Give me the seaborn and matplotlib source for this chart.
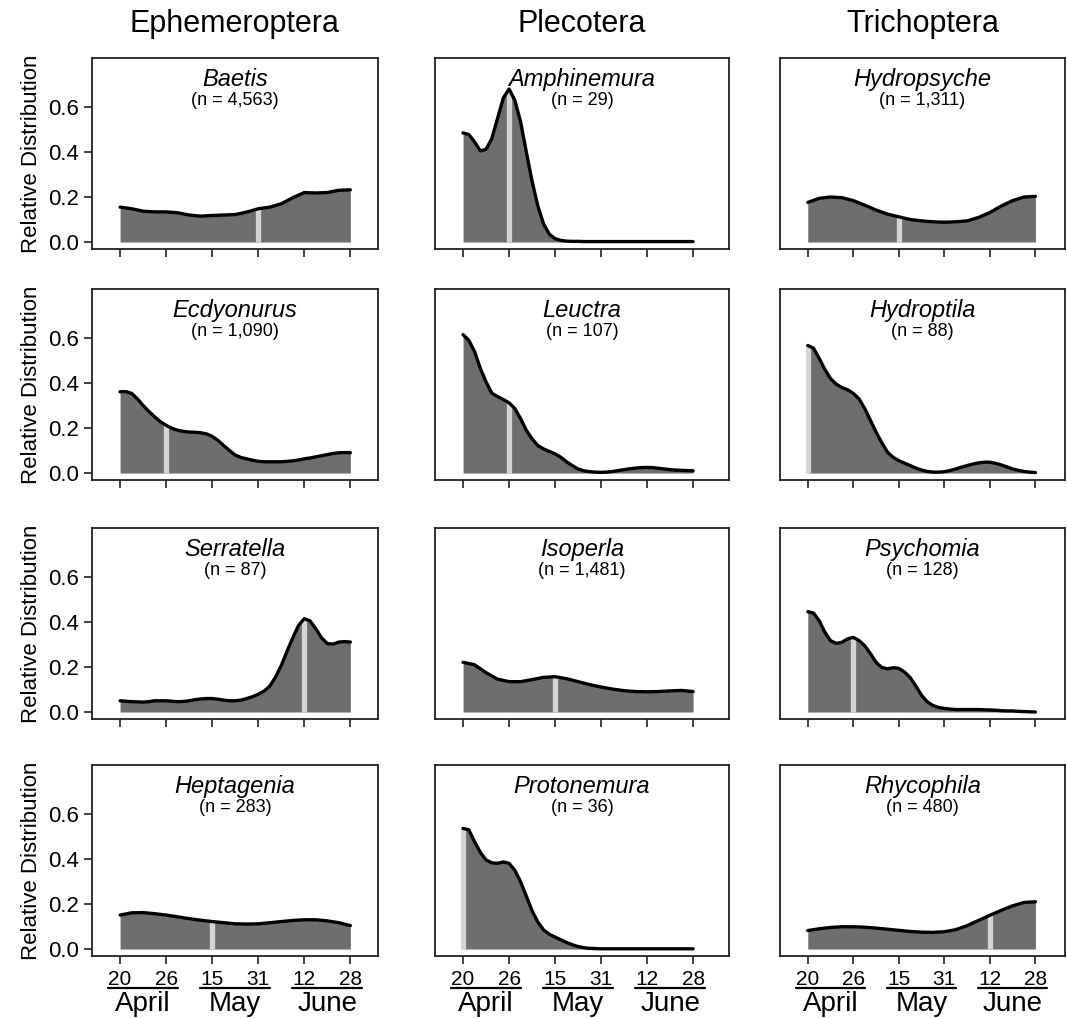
import matplotlib
matplotlib.use("Agg")
import matplotlib.pyplot as plt
import matplotlib.transforms as mtransforms
from matplotlib import font_manager
import seaborn as sns
import pandas as pd

# ---------------- data ----------------
orders = ["Ephemeroptera", "Plecotera", "Trichoptera"]
tick_labels = ["20", "26", "15", "31", "12", "28"]
months = ["April", "May", "June"]
x_coarse = [0.0, 0.25, 0.5, 0.75, 1.0, 1.25, 1.5, 1.75, 2.0, 2.25, 2.5,
            2.75, 3.0, 3.25, 3.5, 3.75, 4.0, 4.25, 4.5, 4.75, 5.0]
x_fine = [0.0, 0.125, 0.25, 0.375, 0.5, 0.625, 0.75, 0.875, 1.0, 1.125, 1.25,
          1.375, 1.5, 1.625, 1.75, 1.875, 2.0, 2.125, 2.25, 2.375, 2.5,
          2.625, 2.75, 2.875, 3.0, 3.125, 3.25, 3.375, 3.5, 3.625, 3.75,
          3.875, 4.0, 4.125, 4.25, 4.375, 4.5, 4.625, 4.75, 4.875, 5.0]

genera = [["Baetis", "Ecdyonurus", "Serratella", "Heptagenia"],
          ["Amphinemura", "Leuctra", "Isoperla", "Protonemura"],
          ["Hydropsyche", "Hydroptila", "Psychomia", "Rhycophila"]]
counts = [["4,563", "1,090", "87", "283"],
          ["29", "107", "1,481", "36"],
          ["1,311", "88", "128", "480"]]

# coarse-sampled (smooth) curves
baetis = [0.155, 0.148, 0.137, 0.134, 0.134, 0.130, 0.120, 0.115, 0.118, 0.120, 0.122,
          0.133, 0.148, 0.155, 0.170, 0.197, 0.220, 0.218, 0.220, 0.230, 0.232]
heptagenia = [0.151, 0.161, 0.162, 0.157, 0.151, 0.143, 0.135, 0.128, 0.122, 0.117, 0.112,
              0.111, 0.112, 0.117, 0.122, 0.127, 0.130, 0.130, 0.125, 0.117, 0.104]
isoperla = [0.221, 0.210, 0.175, 0.146, 0.135, 0.135, 0.144, 0.154, 0.157, 0.148, 0.135,
            0.122, 0.111, 0.102, 0.095, 0.091, 0.090, 0.091, 0.094, 0.096, 0.091]
hydropsyche = [0.176, 0.194, 0.200, 0.197, 0.184, 0.164, 0.142, 0.124, 0.112, 0.100, 0.094,
               0.090, 0.088, 0.090, 0.094, 0.109, 0.131, 0.160, 0.184, 0.200, 0.203]
rhycophila = [0.082, 0.090, 0.096, 0.099, 0.099, 0.097, 0.093, 0.088, 0.083, 0.078, 0.075,
              0.074, 0.077, 0.086, 0.104, 0.127, 0.150, 0.172, 0.192, 0.207, 0.210]

# finely-sampled (peaky) curves
ecdyonurus = [0.361, 0.362, 0.354, 0.330, 0.300, 0.274, 0.250, 0.228, 0.212, 0.199, 0.190,
              0.185, 0.182, 0.181, 0.179, 0.174, 0.163, 0.145, 0.122, 0.100, 0.080,
              0.069, 0.063, 0.057, 0.052, 0.050, 0.050, 0.050, 0.050, 0.052, 0.054,
              0.058, 0.063, 0.067, 0.072, 0.077, 0.082, 0.087, 0.090, 0.091, 0.090]
serratella = [0.050, 0.048, 0.046, 0.045, 0.044, 0.046, 0.050, 0.050, 0.050, 0.048, 0.046,
              0.047, 0.050, 0.055, 0.058, 0.060, 0.060, 0.057, 0.053, 0.050, 0.050,
              0.053, 0.060, 0.068, 0.079, 0.093, 0.115, 0.155, 0.207, 0.270, 0.330,
              0.385, 0.415, 0.405, 0.370, 0.330, 0.304, 0.302, 0.311, 0.313, 0.311]
amphinemura = [0.485, 0.478, 0.445, 0.405, 0.412, 0.460, 0.550, 0.640, 0.680, 0.630, 0.535,
               0.400, 0.270, 0.160, 0.080, 0.035, 0.015, 0.007, 0.004, 0.003, 0.003,
               0.002, 0.002, 0.002, 0.002, 0.002, 0.002, 0.002, 0.002, 0.002, 0.002,
               0.002, 0.002, 0.002, 0.002, 0.002, 0.002, 0.002, 0.002, 0.002, 0.002]
leuctra = [0.615, 0.590, 0.540, 0.465, 0.405, 0.355, 0.340, 0.327, 0.312, 0.287, 0.242,
           0.190, 0.152, 0.122, 0.107, 0.096, 0.085, 0.070, 0.050, 0.033, 0.018,
           0.010, 0.006, 0.004, 0.003, 0.004, 0.007, 0.011, 0.015, 0.019, 0.022,
           0.024, 0.025, 0.024, 0.021, 0.018, 0.015, 0.013, 0.012, 0.011, 0.010]
protonemura = [0.536, 0.530, 0.477, 0.430, 0.396, 0.383, 0.381, 0.387, 0.381, 0.350, 0.299,
               0.235, 0.170, 0.120, 0.085, 0.066, 0.053, 0.041, 0.029, 0.019, 0.011,
               0.006, 0.003, 0.002, 0.001, 0.001, 0.001, 0.001, 0.001, 0.001, 0.001,
               0.001, 0.001, 0.001, 0.001, 0.001, 0.001, 0.001, 0.001, 0.001, 0.001]
hydroptila = [0.567, 0.555, 0.510, 0.460, 0.420, 0.395, 0.380, 0.370, 0.354, 0.330, 0.287,
              0.235, 0.182, 0.135, 0.093, 0.070, 0.055, 0.044, 0.033, 0.022, 0.013,
              0.007, 0.004, 0.004, 0.006, 0.011, 0.018, 0.026, 0.033, 0.040, 0.045,
              0.048, 0.048, 0.043, 0.036, 0.027, 0.018, 0.012, 0.007, 0.004, 0.002]
psychomia = [0.446, 0.440, 0.406, 0.355, 0.317, 0.305, 0.310, 0.325, 0.332, 0.318, 0.295,
             0.260, 0.221, 0.198, 0.192, 0.197, 0.194, 0.178, 0.153, 0.115, 0.074,
             0.045, 0.029, 0.020, 0.016, 0.013, 0.011, 0.011, 0.011, 0.011, 0.011,
             0.010, 0.009, 0.008, 0.006, 0.005, 0.005, 0.003, 0.002, 0.001, 0.000]

series = [[baetis, ecdyonurus, serratella, heptagenia],
          [amphinemura, leuctra, isoperla, protonemura],
          [hydropsyche, hydroptila, psychomia, rhycophila]]
# median sampling date (tick index) for each genus
medians = [[3, 1, 4, 2],
           [1, 1, 2, 0],
           [2, 0, 1, 4]]

# ---------------- style ----------------
sns.set_style("ticks")
plt.rcParams["font.family"] = ["Liberation Sans", "DejaVu Sans"]
plt.rcParams["text.color"] = "black"
plt.rcParams["xtick.color"] = "black"
plt.rcParams["ytick.color"] = "black"
plt.rcParams["axes.labelcolor"] = "black"


def have_font(name):
    try:
        font_manager.findfont(name, fallback_to_default=False)
        return True
    except Exception:
        return False


narrow = "Liberation Sans Narrow" if have_font("Liberation Sans Narrow") else "Liberation Sans"

W, H = 1067, 1018
fig = plt.figure(figsize=(W / 100, H / 100), dpi=100)

col_left = [92, 435, 780]
col_width = [286, 294, 285]
col_xmax = [5.6, 5.78, 5.65]
row_top = [58, 289, 528, 765]
row_h = 191

FILL = "#6e6e6e"
MED = "#d4d4d4"

for c in range(3):
    for r in range(4):
        ax = fig.add_axes([col_left[c] / W, 1 - (row_top[r] + row_h) / H,
                           col_width[c] / W, row_h / H])
        y = series[c][r]
        xs = x_fine if len(y) == len(x_fine) else x_coarse
        df = pd.DataFrame({"x": xs, "y": y})
        ax.fill_between(df["x"], 0, df["y"], color=FILL, lw=0, zorder=1)
        m = medians[c][r]
        mh = y[xs.index(float(m))]
        ax.vlines(m, 0, mh, color=MED, lw=3.8, zorder=2)
        sns.lineplot(data=df, x="x", y="y", ax=ax, color="black", lw=2.4, zorder=3)
        for ln in ax.get_lines():
            ln.set_solid_joinstyle("round")
            ln.set_solid_capstyle("round")
        ax.set_xlim(-0.61, col_xmax[c])
        ax.set_ylim(-0.031, 0.818)
        ax.set_xticks(range(6))
        ax.set_yticks([0.0, 0.2, 0.4, 0.6])
        ax.set_xlabel("")
        ax.set_ylabel("")
        for s in ax.spines.values():
            s.set_visible(True)
            s.set_linewidth(1.3)
            s.set_color("#222222")
        ax.tick_params(axis="both", direction="out", length=6, width=1.2, color="#222222")
        if c == 0:
            ax.set_yticklabels(["0.0", "0.2", "0.4", "0.6"], fontsize=16)
            ax.set_ylabel("Relative Distribution", fontsize=16, labelpad=4)
        else:
            ax.tick_params(axis="y", left=False, labelleft=False)
        if r == 3:
            ax.set_xticklabels(tick_labels, fontsize=15, family=narrow)
            ax.tick_params(axis="x", pad=4)
            trans = mtransforms.blended_transform_factory(ax.transData, ax.transAxes)
            for k, mon in enumerate(months):
                cx = 2 * k + 0.5
                ax.plot([cx - 0.76, cx + 0.76], [-0.166, -0.166], color="black",
                        lw=1.6, transform=trans, clip_on=False)
                ax.text(cx, -0.25, mon, transform=trans, ha="center", va="center",
                        fontsize=20, family=narrow)
        else:
            ax.set_xticklabels([])
        ax.text(0.5, 0.885, genera[c][r], transform=ax.transAxes, ha="center", va="center",
                fontsize=17, style="italic")
        ax.text(0.5, 0.78, "(n = %s)" % counts[c][r], transform=ax.transAxes,
                ha="center", va="center", fontsize=13)
    cxp = (col_left[c] + col_width[c] / 2) / W
    fig.text(cxp, 1 - 24 / H, orders[c], ha="center", va="center", fontsize=22)

fig.savefig("out.png", dpi=100)
